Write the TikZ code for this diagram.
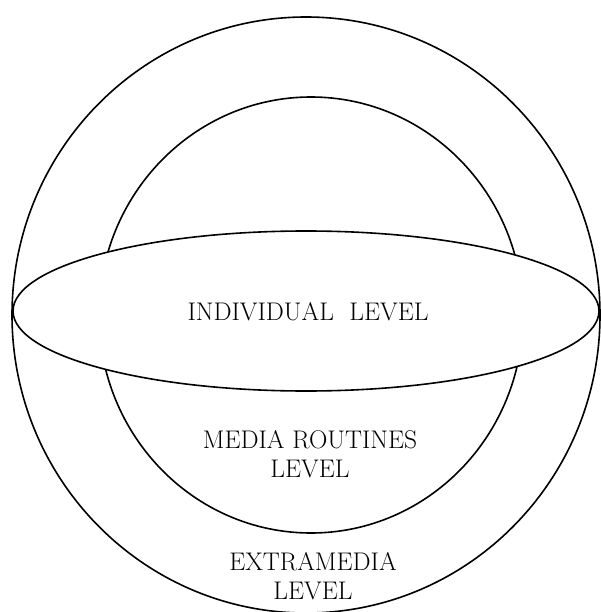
\documentclass[tikz,border=0pt]{standalone}
\begin{document}
\begin{tikzpicture}[x=1pt,y=-1pt,
  ring/.style={draw=black,line width=1.6pt},
  lbl/.style={align=center,font=\fontsize{25.5}{29}\selectfont}]
\useasboundingbox (0,0) rectangle (601,612);
\draw[ring] (306,315) ellipse [x radius=294, y radius=298];
\draw[ring] (311,315) ellipse [x radius=212, y radius=218];
\draw[ring,fill=white] (306,311) ellipse [x radius=293, y radius=80];
\node[lbl] (ind) at (308,312) {INDIVIDUAL\ \ LEVEL};
\node[lbl] (med) at (310,454) {MEDIA ROUTINES\\LEVEL};
\node[lbl] (ext) at (313,576) {EXTRAMEDIA\\LEVEL};
\end{tikzpicture}
\end{document}
